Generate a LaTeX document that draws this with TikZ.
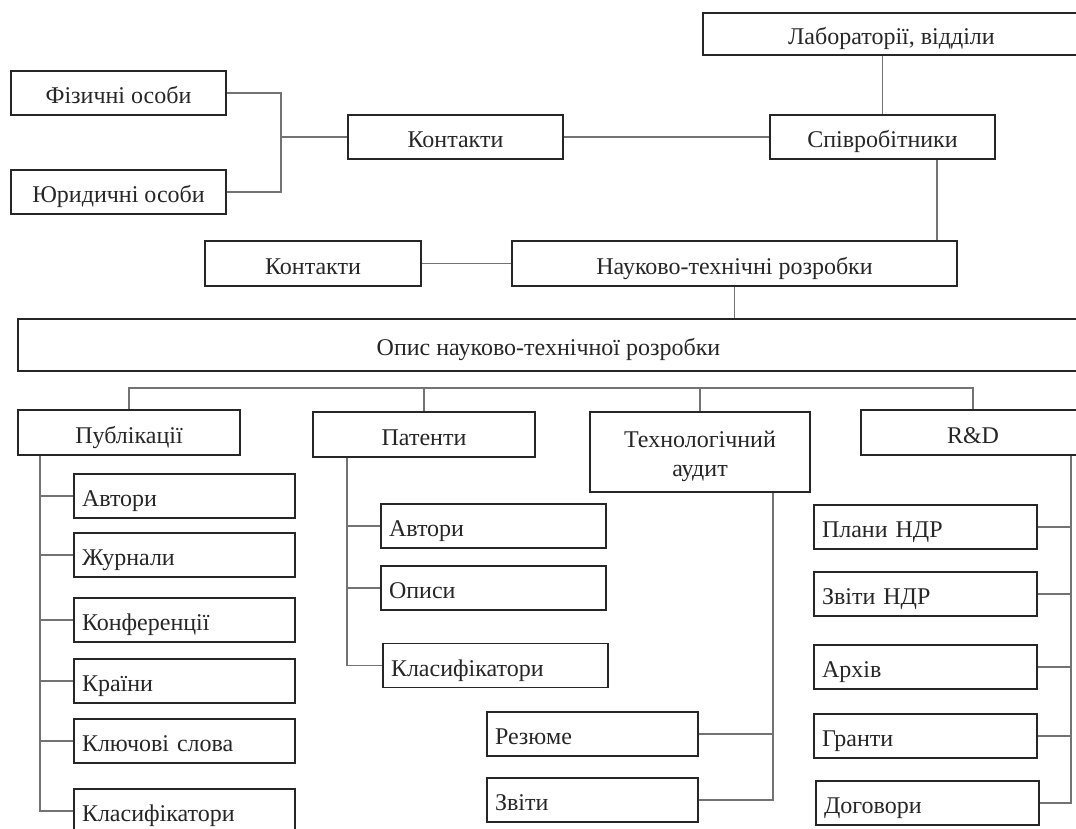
\documentclass[tikz,border=0pt]{standalone}
\usepackage{fontspec}
\setmainfont{Liberation Serif}
\begin{document}
\begin{tikzpicture}[x=1pt,y=-1pt,
  every node/.style={font=\fontsize{24}{29}\selectfont, text=black!85},
  onel/.style={text height=21pt, text depth=0pt},
  tbox/.style={draw=black!85, line width=1.6pt, inner sep=0pt, align=center, minimum height=44pt},
  cbox/.style={onel, draw=black!85, line width=1.6pt, inner xsep=8pt, inner ysep=0pt, align=left, minimum height=44pt},
  conn/.style={draw=black!55, line width=1.2pt}]
\useasboundingbox (0,0) rectangle (1076,829);

% top part
\node[tbox, onel, minimum width=377pt, minimum height=42pt] (lab) at (891.5,34) {Лабораторії, відділи};
\node[tbox, onel, minimum width=215pt] (fiz) at (118.5,93) {Фізичні особи};
\node[tbox, onel, minimum width=215pt] (yur) at (118.5,192) {Юридичні особи};
\node[tbox, onel, minimum width=215pt] (k1) at (455.5,137) {Контакти};
\node[tbox, onel, minimum width=225pt] (sp) at (882.5,137) {Співробітники};
\node[tbox, onel, minimum width=216pt, minimum height=45pt] (k2) at (313,263.5) {Контакти};
\node[tbox, onel, minimum width=445pt, minimum height=45pt] (ntr) at (734.5,263.5) {Науково-технічні розробки};
\node[tbox, onel, minimum width=1061pt, minimum height=52pt] (opys) at (548.5,345) {Опис науково-технічної розробки};

% second level
\node[tbox, onel, minimum width=222pt, minimum height=45pt] (pub) at (129,432.5) {Публікації};
\node[tbox, onel, minimum width=222pt, minimum height=45pt] (pat) at (424,434.5) {Патенти};
\node[tbox, minimum width=220pt, minimum height=80pt] (tech) at (700,452) {\rule{0pt}{25pt}Технологічний\\аудит};
\node[tbox, onel, minimum width=224pt, minimum height=45pt] (rd) at (973,432.5) {R\&D};

% publication children
\foreach \n/\y/\t in {1/496/Автори, 2/555/Журнали, 3/620/Конференції, 4/681/Країни, 5/741/Ключові слова, 6/811/Класифікатори}
  \node[cbox, text width=205pt] (pc\n) at (184.5,\y) {\t};
% patent children
\node[cbox, text width=209pt] (tc1x) at (493.5,526) {Автори};
\node[cbox, text width=209pt] (tc2x) at (493.5,588) {Описи};
\node[cbox, text width=209pt] (tc3x) at (495.5,665.5) {Класифікатори};
% audit children
\node[cbox, text width=195pt] (ac1) at (592.5,734) {Резюме};
\node[cbox, text width=195pt] (ac2) at (592.5,800) {Звіти};
% R&D children
\node[cbox, text width=207pt] (rc1) at (925.5,527) {Плани НДР};
\node[cbox, text width=207pt] (rc2) at (925.5,594) {Звіти НДР};
\node[cbox, text width=207pt] (rc3) at (925.5,667) {Архів};
\node[cbox, text width=207pt] (rc4) at (925.5,736) {Гранти};
\node[cbox, text width=207pt] (rc5) at (927.5,803) {Договори};

% helper coordinates
\coordinate (brk) at (281,137);
\coordinate (cx2) at (937,0);
\coordinate (dist) at (0,388);
\coordinate (psp) at (40,0);
\coordinate (tsp) at (347,0);
\coordinate (asp) at (773,0);
\coordinate (rsp) at (1071,0);

% connectors, top part
\draw[conn] (fiz.east) -| (brk) |- (yur.east);
\draw[conn] (brk) -- (k1.west);
\draw[conn] (k1.east) -- (sp.west);
\draw[conn] (lab.south -| sp.north) -- (sp.north);
\draw[conn] (sp.south -| cx2) -- (ntr.north -| cx2);
\draw[conn] (k2.east) -- (ntr.west);
\draw[conn] (ntr.south) -- (opys.north -| ntr.south);

% distribution line
\draw[conn] (pub.north) -- (pub.north |- dist) -- (rd.north |- dist) -- (rd.north);
\draw[conn] (pat.north |- dist) -- (pat.north);
\draw[conn] (tech.north |- dist) -- (tech.north);

% publication spine
\draw[conn] (pub.south -| psp) |- (pc6.west);
\foreach \n in {1,...,5} \draw[conn] (psp |- pc\n.west) -- (pc\n.west);
% patent spine
\draw[conn] (pat.south -| tsp) |- (tc3x.west);
\draw[conn] (tsp |- tc1x.west) -- (tc1x.west);
\draw[conn] (tsp |- tc2x.west) -- (tc2x.west);
% audit spine
\draw[conn] (tech.south -| asp) |- (ac2.east);
\draw[conn] (asp |- ac1.east) -- (ac1.east);
% R&D spine
\draw[conn] (rd.south -| rsp) |- (rc5.east);
\foreach \n in {1,...,4} \draw[conn] (rsp |- rc\n.east) -- (rc\n.east);
\end{tikzpicture}
\end{document}
